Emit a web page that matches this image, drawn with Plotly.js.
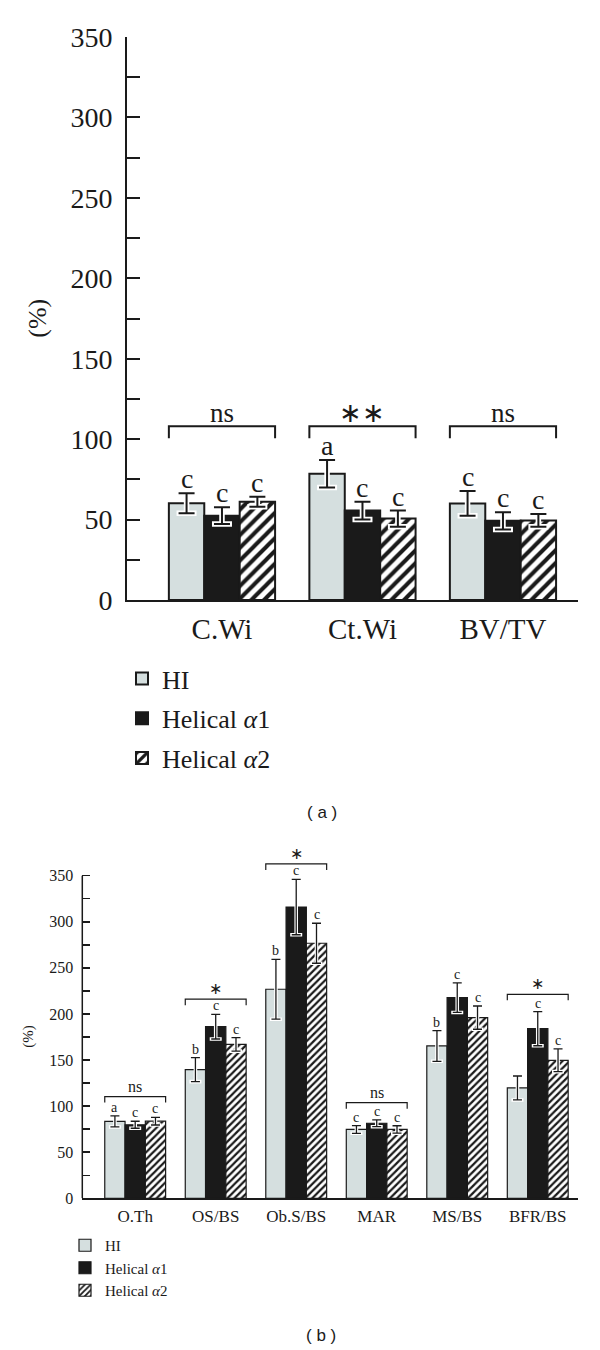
<!DOCTYPE html>
<html>
<head>
<meta charset="utf-8">
<script src="https://cdn.plot.ly/plotly-3.0.1.min.js"></script>
<style>html,body{margin:0;padding:0;background:#fff}</style>
</head>
<body>
<div id="chart" style="width:600px;height:1350px"></div>
<script>
// ---------- data ----------
const seriesNames = ['HI', 'Helical <i>α</i>1', 'Helical <i>α</i>2'];

// panel (a)
const catsA = ['C.Wi', 'Ct.Wi', 'BV/TV'];
const hiA = [60.1, 78.5, 60.0];
const hiErrA = [6.2, 8.5, 7.7];
const a1A = [52.4, 55.6, 49.2];
const a1ErrA = [5.2, 5.5, 5.3];
const a2A = [61.1, 50.6, 49.5];
const a2ErrA = [3.1, 5.0, 3.9];
const hiLetA = ['c', 'a', 'c'];
const a1LetA = ['c', 'c', 'c'];
const a2LetA = ['c', 'c', 'c'];
const sigA = ['ns', '∗∗', 'ns'];
const bracketA = [108, 108, 108];

// panel (b)
const catsB = ['O.Th', 'OS/BS', 'Ob.S/BS', 'MAR', 'MS/BS', 'BFR/BS'];
const hiB = [83.4, 139.6, 226.8, 74.7, 165.3, 119.7];
const hiErrB = [6.0, 13.0, 32.5, 4.2, 16.7, 13.0];
const a1B = [79.8, 186.2, 315.9, 81.4, 217.6, 184.0];
const a1ErrB = [3.8, 13.4, 30.0, 3.7, 16.0, 18.5];
const a2B = [83.7, 167.0, 276.7, 74.7, 196.0, 149.7];
const a2ErrB = [4.2, 7.3, 21.7, 4.0, 12.6, 12.3];
const hiLetB = ['a', 'b', 'b', 'c', 'b', ''];
const a1LetB = ['c', 'c', 'c', 'c', 'c', 'c'];
const a2LetB = ['c', 'c', 'c', 'c', 'c', 'c'];
const sigB = ['ns', '∗', '∗', 'ns', '', '∗'];
const bracketB = [110.3, 216, 362.7, 103.7, null, 221.3];

// ---------- styles ----------
const INK = '#1a1a1a';
const HI_COLOR = '#d5dfdf';
const BAR_W = 0.252;
const SERIF = 'Liberation Serif, Times New Roman, serif';

const styleA = {xa: 'x', ya: 'y', legend: 'legend', lineW: 2, patSize: 9, patSol: 0.45,
  capW: 8, errT: 2, haloT: 5.5, haloCap: 10, letFont: 28, sigFont: 27, brW: 2, legDrop: 7.5, letShift: -3, sigShift: -4};
const styleB = {xa: 'x2', ya: 'y2', legend: 'legend2', lineW: 1.2, patSize: 5, patSol: 0.45,
  capW: 4.5, errT: 1.3, haloT: 3.6, haloCap: 6, letFont: 14, sigFont: 16, brW: 1.2, legDrop: 6.5, letShift: -1, sigShift: 0};

const traces = [];
const shapes = [];
const annotations = [];

function buildPanel(cats, vals, errs, lets, sig, brackets, st, showLegend) {
  const idx = cats.map((_, i) => i);
  const fills = [
    {color: HI_COLOR},
    {color: INK},
    {color: '#ffffff', pattern: {shape: '/', fgcolor: INK, bgcolor: '#ffffff', size: st.patSize, solidity: st.patSol, fillmode: 'replace'}}
  ];
  for (let k = 0; k < 3; k++) {
    traces.push({
      type: 'bar', x: idx, y: vals[k], name: seriesNames[k],
      xaxis: st.xa, yaxis: st.ya, legend: st.legend, showlegend: showLegend,
      legendgroup: st.legend + k,
      marker: Object.assign({line: {color: INK, width: st.lineW}}, fills[k]),
      hoverinfo: 'skip'
    });
  }
  for (let k = 0; k < 3; k++) {
    const xs = idx.map(i => i + (k - 1) * BAR_W);
    // white halo under error bar
    traces.push({
      type: 'scatter', mode: 'markers', x: xs, y: vals[k], xaxis: st.xa, yaxis: st.ya,
      showlegend: false, hoverinfo: 'skip', marker: {size: 1, opacity: 0},
      error_y: {type: 'data', array: errs[k], visible: true, color: '#ffffff', thickness: st.haloT, width: st.haloCap}
    });
    traces.push({
      type: 'scatter', mode: 'markers', x: xs, y: vals[k], xaxis: st.xa, yaxis: st.ya,
      showlegend: false, hoverinfo: 'skip', marker: {size: 1, opacity: 0},
      error_y: {type: 'data', array: errs[k], visible: true, color: INK, thickness: st.errT, width: st.capW}
    });
    // letters
    idx.forEach(i => {
      if (!lets[k][i]) return;
      annotations.push({
        xref: st.xa, yref: st.ya, x: i + (k - 1) * BAR_W, y: vals[k][i] + errs[k][i],
        text: lets[k][i], showarrow: false, yanchor: 'bottom', yshift: st.letShift,
        font: {family: SERIF, size: st.letFont, color: INK}
      });
    });
  }
  // significance brackets
  idx.forEach(i => {
    if (brackets[i] == null) return;
    const x0 = i - 1.5 * BAR_W, x1 = i + 1.5 * BAR_W, yb = brackets[i], yl = yb - st.legDrop;
    shapes.push({
      type: 'path', xref: st.xa, yref: st.ya,
      path: `M ${x0} ${yl} L ${x0} ${yb} L ${x1} ${yb} L ${x1} ${yl}`,
      line: {color: INK, width: st.brW}
    });
    annotations.push({
      xref: st.xa, yref: st.ya, x: i, y: yb, text: sig[i], showarrow: false,
      yanchor: 'bottom', yshift: st.sigShift, font: {family: SERIF, size: st.sigFont, color: INK}
    });
  });
}

buildPanel(catsA, [hiA, a1A, a2A], [hiErrA, a1ErrA, a2ErrA], [hiLetA, a1LetA, a2LetA], sigA, bracketA, styleA, true);
buildPanel(catsB, [hiB, a1B, a2B], [hiErrB, a1ErrB, a2ErrB], [hiLetB, a1LetB, a2LetB], sigB, bracketB, styleB, true);

// y-axis line of panel (b), stopping at the top tick
shapes.push({type: 'line', xref: 'x2 domain', yref: 'y2', x0: 0, x1: 0, y0: 0, y1: 350,
  line: {color: INK, width: 1.5}});

annotations.push(
  {xref: 'paper', yref: 'paper', x: 37.7 / 600, y: 1 - 318 / 1350, text: '(%)', textangle: -90,
   showarrow: false, xanchor: 'center', yanchor: 'middle', font: {family: SERIF, size: 26, color: INK}},
  {xref: 'paper', yref: 'paper', x: 29 / 600, y: 1 - 1036.7 / 1350, text: '(%)', textangle: -90,
   showarrow: false, xanchor: 'center', yanchor: 'middle', font: {family: SERIF, size: 15, color: INK}},
  {xref: 'paper', yref: 'paper', x: 322 / 600, y: 1 - 812 / 1350, text: '( a )', showarrow: false,
   xanchor: 'center', yanchor: 'middle', font: {family: 'Liberation Sans, Arial, sans-serif', size: 17, color: INK}},
  {xref: 'paper', yref: 'paper', x: 321 / 600, y: 1 - 1335 / 1350, text: '( b )', showarrow: false,
   xanchor: 'center', yanchor: 'middle', font: {family: 'Liberation Sans, Arial, sans-serif', size: 17, color: INK}}
);

const axCommon = {showgrid: false, zeroline: false, linecolor: INK, tickcolor: INK, fixedrange: true};

const layout = {
  width: 600, height: 1350,
  margin: {l: 0, r: 0, t: 0, b: 0},
  paper_bgcolor: '#ffffff', plot_bgcolor: '#ffffff',
  barmode: 'group', bargap: 1 - 3 * BAR_W, bargroupgap: 0,
  font: {family: SERIF, color: INK},
  showlegend: true,
  xaxis: Object.assign({}, axCommon, {
    domain: [127 / 600, 578 / 600], range: [-0.676, 2.534], anchor: 'y',
    tickmode: 'array', tickvals: catsA.map((_, i) => i), ticktext: catsA, ticks: '',
    showline: true, linewidth: 2, tickfont: {family: SERIF, size: 29, color: INK}, ticklabelstandoff: 2
  }),
  yaxis: Object.assign({}, axCommon, {
    domain: [1 - 600 / 1350, 1 - 37 / 1350], range: [0, 350], anchor: 'x',
    dtick: 50, ticks: 'inside', ticklen: 13, tickwidth: 2,
    minor: {dtick: 25, ticks: 'inside', ticklen: 13, tickwidth: 2, tickcolor: INK, showgrid: false},
    showline: true, linewidth: 2, tickfont: {family: SERIF, size: 28, color: INK}, ticklabelstandoff: 7
  }),
  xaxis2: Object.assign({}, axCommon, {
    domain: [82.3 / 600, 578 / 600], range: [-0.657, 5.50], anchor: 'y2',
    tickmode: 'array', tickvals: catsB.map((_, i) => i), ticktext: catsB, ticks: '',
    showline: true, linewidth: 1.5, tickfont: {family: SERIF, size: 17, color: INK}, ticklabelstandoff: 2
  }),
  yaxis2: Object.assign({}, axCommon, {
    domain: [1 - 1198.3 / 1350, 1 - 855.4 / 1350], range: [0, 372], anchor: 'x2',
    dtick: 50, ticks: 'inside', ticklen: 8, tickwidth: 1.5,
    minor: {dtick: 25, ticks: 'inside', ticklen: 8, tickwidth: 1.5, tickcolor: INK, showgrid: false},
    showline: false, tickfont: {family: SERIF, size: 16, color: INK}, ticklabelstandoff: 8
  }),
  legend: {x: 122 / 600, y: 1 - 655 / 1350, xanchor: 'left', yanchor: 'top',
    font: {family: SERIF, size: 26, color: INK}, bgcolor: 'rgba(0,0,0,0)', tracegroupgap: 3, traceorder: 'grouped'},
  legend2: {x: 65 / 600, y: 1 - 1229 / 1350, xanchor: 'left', yanchor: 'top',
    font: {family: SERIF, size: 15, color: INK}, bgcolor: 'rgba(0,0,0,0)', tracegroupgap: 0, traceorder: 'grouped'},
  shapes: shapes,
  annotations: annotations
};

Plotly.newPlot('chart', traces, layout, {staticPlot: true, displayModeBar: false});
</script>
</body>
</html>
